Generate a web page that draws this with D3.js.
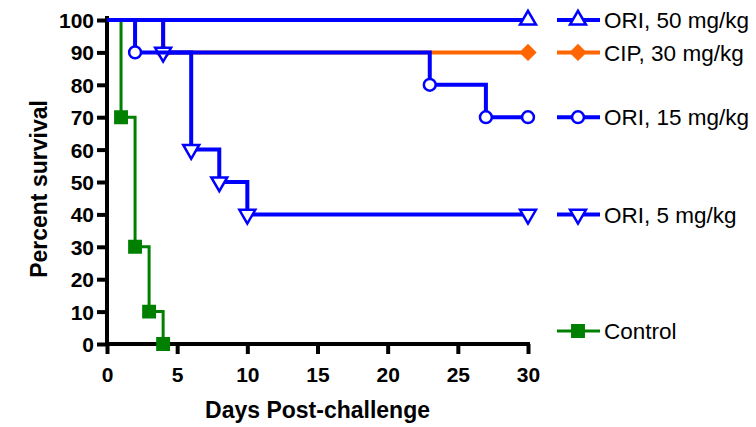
<!DOCTYPE html>
<html>
<head>
<meta charset="utf-8">
<script src="https://cdn.jsdelivr.net/npm/d3@7"></script>
<style>
  body { margin: 0; background: #fff; }
  svg { font-family: "Liberation Sans", Arial, sans-serif; }
</style>
</head>
<body>
<div id="chart"></div>
<script>
// Kaplan-Meier steps
const seriesNames = ["Control", "CIP, 30 mg/kg", "ORI, 5 mg/kg", "ORI, 15 mg/kg", "ORI, 50 mg/kg"];
const controlDays = [0, 1, 2, 3, 4];
const controlSurv = [100, 70, 30, 10, 0];
const cipDays = [0, 4, 30];
const cipSurv = [100, 90, 90];
const ori5Days = [0, 4, 6, 8, 10, 30];
const ori5Surv = [100, 90, 60, 50, 40, 40];
const ori15Days = [0, 2, 23, 27, 30];
const ori15Surv = [100, 90, 80, 70, 70];
const ori50Days = [0, 30];
const ori50Surv = [100, 100];
const xTicks = [0, 5, 10, 15, 20, 25, 30];
const yTicks = [0, 10, 20, 30, 40, 50, 60, 70, 80, 90, 100];

const width = 756, height = 427;
const margin = { top: 20, right: 228, bottom: 83, left: 107 };
const innerW = width - margin.left - margin.right;
const innerH = height - margin.top - margin.bottom;

const svg = d3.select("#chart").append("svg")
    .attr("width", width)
    .attr("height", height);

const g = svg.append("g")
    .attr("transform", `translate(${margin.left},${margin.top})`);

const x = d3.scaleLinear().domain([0, 30]).range([0, innerW]);
const y = d3.scaleLinear().domain([0, 100]).range([innerH, 0]);

// styles per series
const styles = {
    "Control":       { color: "#008000", symbol: d3.symbolSquare, size: 130, fill: "#008000", rot: 0, lw: 3 },
    "CIP, 30 mg/kg": { color: "#ff6600", symbol: d3.symbolSquare, size: 95, fill: "#ff6600", rot: 45, lw: 4 },
    "ORI, 5 mg/kg":  { color: "#0000ff", symbol: d3.symbolTriangle, size: 110, fill: "#fff", rot: 180, lw: 4 },
    "ORI, 15 mg/kg": { color: "#0000ff", symbol: d3.symbolCircle, size: 110, fill: "#fff", rot: 0, lw: 4 },
    "ORI, 50 mg/kg": { color: "#0000ff", symbol: d3.symbolTriangle, size: 110, fill: "#fff", rot: 0, lw: 4 }
};

const series = [
    { name: "Control", days: controlDays, surv: controlSurv },
    { name: "CIP, 30 mg/kg", days: cipDays, surv: cipSurv },
    { name: "ORI, 5 mg/kg", days: ori5Days, surv: ori5Surv },
    { name: "ORI, 15 mg/kg", days: ori15Days, surv: ori15Surv },
    { name: "ORI, 50 mg/kg", days: ori50Days, surv: ori50Surv }
];

const line = d3.line()
    .x(d => x(d[0]))
    .y(d => y(d[1]))
    .curve(d3.curveStepAfter);

// axes
const yAxis = g.append("g")
    .call(d3.axisLeft(y).tickValues(yTicks).tickSize(10).tickSizeOuter(0));
const xAxis = g.append("g")
    .attr("transform", `translate(0,${innerH})`)
    .call(d3.axisBottom(x).tickValues(xTicks).tickSize(10).tickSizeOuter(0));

[xAxis, yAxis].forEach(a => {
    a.attr("font-family", null).attr("font-size", null);
    a.select(".domain").attr("stroke", "#000").attr("stroke-width", 4);
    a.selectAll(".tick line").attr("stroke", "#000").attr("stroke-width", 4);
    a.selectAll(".tick text")
        .attr("fill", "#000")
        .style("font-size", "21px")
        .style("font-weight", "bold");
});
yAxis.select(".domain").attr("d", `M0,-4V${innerH + 2}`);
yAxis.selectAll(".tick text").attr("x", -13).attr("dy", "0.36em");
xAxis.select(".domain").attr("d", `M-2,0H${innerW + 2}`);
xAxis.selectAll(".tick text").attr("y", 38).attr("dy", 0);

// step lines and markers
series.forEach(s => {
    const st = styles[s.name];
    const pts = s.days.map((d, i) => [d, s.surv[i]]);
    g.append("path")
        .datum(pts)
        .attr("fill", "none")
        .attr("stroke", st.color)
        .attr("stroke-width", st.lw)
        .attr("d", line);
    g.selectAll(null)
        .data(pts.slice(1))
        .enter()
        .append("path")
        .attr("transform", d => `translate(${x(d[0])},${y(d[1])}) rotate(${st.rot})`)
        .attr("d", d3.symbol().type(st.symbol).size(st.size))
        .attr("fill", st.fill)
        .attr("stroke", st.color)
        .attr("stroke-width", 2.5);
});

// legend entries placed next to each curve end
const legendY = {
    "ORI, 50 mg/kg": y(100),
    "CIP, 30 mg/kg": y(90),
    "ORI, 15 mg/kg": y(70),
    "ORI, 5 mg/kg": y(40),
    "Control": y(4)
};
const legend = svg.append("g").attr("transform", `translate(${margin.left + innerW + 29},${margin.top})`);
series.forEach(s => {
    const st = styles[s.name];
    const item = legend.append("g").attr("transform", `translate(0,${legendY[s.name]})`);
    item.append("line")
        .attr("x1", 0).attr("x2", 43)
        .attr("stroke", st.color).attr("stroke-width", st.lw);
    item.append("path")
        .attr("transform", `translate(21,0) rotate(${st.rot})`)
        .attr("d", d3.symbol().type(st.symbol).size(st.size))
        .attr("fill", st.fill)
        .attr("stroke", st.color)
        .attr("stroke-width", 2.5);
    item.append("text")
        .attr("x", 47)
        .attr("dy", "0.36em")
        .style("font-size", "22.5px")
        .attr("fill", "#000")
        .text(s.name);
});

// axis titles
svg.append("text")
    .attr("x", margin.left + innerW / 2)
    .attr("y", 418)
    .attr("text-anchor", "middle")
    .style("font-size", "23px")
    .style("font-weight", "bold")
    .text("Days Post-challenge");

svg.append("text")
    .attr("transform", `translate(47,${margin.top + innerH / 2 + 7}) rotate(-90)`)
    .attr("text-anchor", "middle")
    .style("font-size", "23px")
    .style("font-weight", "bold")
    .text("Percent survival");
</script>
</body>
</html>
